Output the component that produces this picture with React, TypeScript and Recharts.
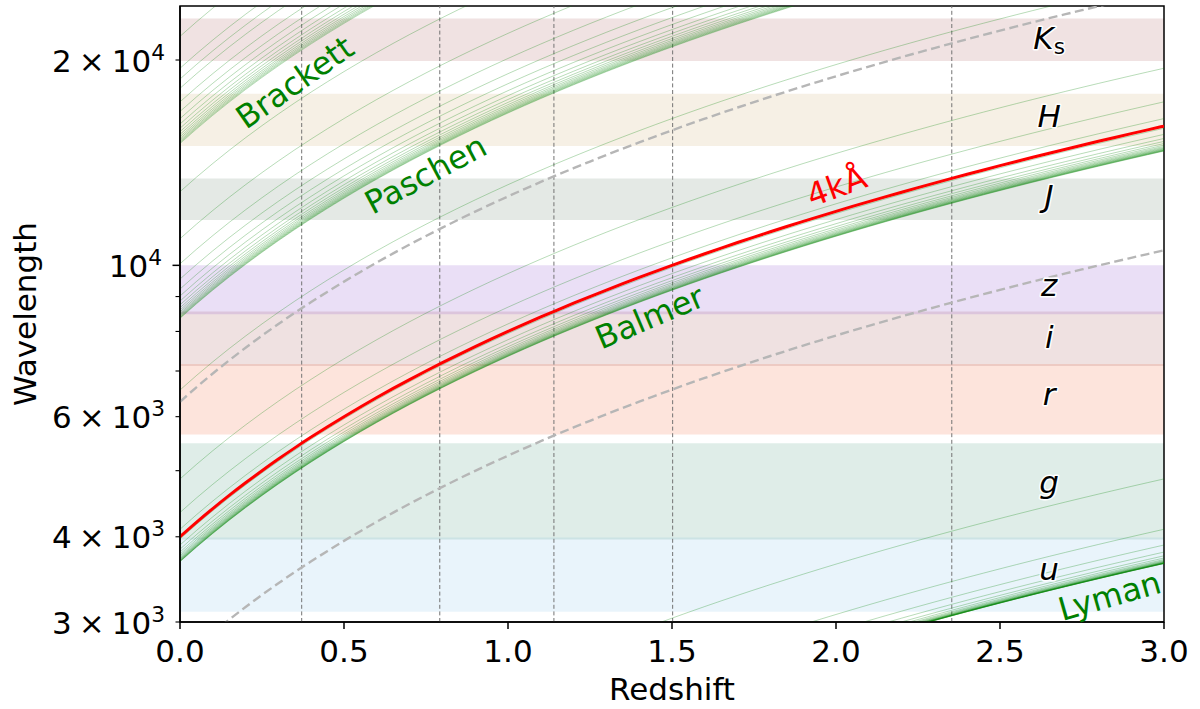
import React from 'react';
import { LineChart, Line, XAxis, YAxis, ReferenceArea, ReferenceLine, ReferenceDot } from 'recharts';

// ---------------- data ----------------
const REDSHIFT_TICKS = [0, 0.5, 1, 1.5, 2, 2.5, 3];
const WAVELENGTH_TICKS = [3000, 4000, 5000, 6000, 7000, 8000, 9000, 10000, 20000];
const WAVELENGTH_TICK_LABELS = ['3 × 10^3', '4 × 10^3', '', '6 × 10^3', '', '', '', '10^4', '2 × 10^4'];
const WAVELENGTH_MAJOR_TICKS = [10000];

// rest-frame wavelengths (Å) of hydrogen transitions, upper level up to n = 22
const LYMAN = [1215.7, 1025.7, 972.5, 949.7, 937.8, 930.8, 926.2, 923.2, 921.0, 919.4, 918.1, 917.2, 916.4, 915.8, 915.3, 914.9, 914.6, 914.3, 914.0, 913.8, 913.7];
const BALMER = [6564.7, 4862.7, 4341.7, 4102.9, 3971.2, 3890.2, 3836.5, 3799.0, 3771.7, 3751.2, 3735.5, 3723.0, 3713.1, 3705.0, 3698.2, 3692.6, 3687.9, 3683.9, 3680.4, 3677.4];
const PASCHEN = [18756.3, 12821.7, 10941.2, 10052.2, 9548.6, 9231.6, 9017.4, 8865.3, 8752.9, 8667.3, 8600.8, 8547.8, 8504.9, 8469.6, 8440.3, 8415.7, 8394.8, 8376.8, 8361.4];
const BRACKETT = [40522.8, 26258.8, 21661.2, 19450.9, 18179.1, 17366.9, 16811.1, 16411.7, 16113.7, 15885.0, 15705.0, 15560.7, 15443.2, 15346.0, 15264.8, 15196.0, 15137.4, 15086.9];

const BREAK_REST = 4000; // 4kÅ break
const GREY_DASHED_REST = [2630, 6310];
const MARKER_REDSHIFTS = [0.371, 0.792, 1.14, 1.502, 2.353];

const FILTER_NAMES = ['u', 'g', 'r', 'i', 'z', 'J', 'H', 'Ks'];
const FILTER_LOW = [3105, 3965, 5650, 7120, 8480, 11650, 14955, 19925];
const FILTER_HIGH = [3990, 5484, 7168, 8560, 10000, 13412, 17846, 23010];

// ---------------- styles ----------------
const FILTER_COLORS = [
  'rgba(108,182,228,0.15)',
  'rgba(42,135,102,0.15)',
  'rgba(242,75,22,0.15)',
  'rgba(148,55,55,0.15)',
  'rgba(115,42,195,0.15)',
  'rgba(75,108,82,0.15)',
  'rgba(195,155,82,0.15)',
  'rgba(155,62,62,0.15)',
];
const FILTER_LABEL_DY = [5, 2, 6, 9, 6, 8, 7, 9];
const FILTER_LABEL_Z = 2.65;

const SERIES_LABELS = [
  { text: 'Brackett', z: 0.35, lam: 18540, angle: -35, color: '#008000' },
  { text: 'Paschen', z: 0.749, lam: 13594, angle: -28, color: '#008000' },
  { text: 'Balmer', z: 1.432, lam: 8393, angle: -23, color: '#008000' },
  { text: 'Lyman', z: 2.834, lam: 3276, angle: -16, color: '#008000' },
  { text: '4kÅ', z: 2.002, lam: 13053, angle: -20, color: '#ff0000' },
];

const FONT = "'DejaVu Sans', sans-serif";
const FS = 31;
const LABEL_FS = 32;

const HYDROGEN = [
  { key: 'ly', rest: LYMAN },
  { key: 'ba', rest: BALMER },
  { key: 'pa', rest: PASCHEN },
  { key: 'br', rest: BRACKETT },
];

// sampling grid in redshift for drawing the curves λ_obs = λ_rest (1+z)
const Z_SAMPLES = Array.from({ length: 61 }, (_, i) => i * 0.05);

const chartData = Z_SAMPLES.map((z) => {
  const row: Record<string, number> = { z };
  HYDROGEN.forEach((s) => s.rest.forEach((lam, i) => { row[`${s.key}${i}`] = lam * (1 + z); }));
  GREY_DASHED_REST.forEach((lam, i) => { row[`d${i}`] = lam * (1 + z); });
  row.brk = BREAK_REST * (1 + z);
  return row;
});

// ---------------- ticks ----------------
const YTick = (props: any) => {
  const { x, y, payload } = props;
  const v = payload.value;
  const idx = WAVELENGTH_TICKS.indexOf(v);
  const label = idx >= 0 ? WAVELENGTH_TICK_LABELS[idx] : '';
  const major = WAVELENGTH_MAJOR_TICKS.includes(v);
  const len = major ? 7.5 : 4.5;
  let content: React.ReactNode = null;
  if (label) {
    const [base, exp] = label.split('^');
    const parts = base.split(' × ');
    content = (
      <text x={x - len - 10.5} y={y + 11.5} textAnchor="end" fontFamily={FONT} fontSize={FS} fill="#000">
        {parts.length === 2 ? (
          <>
            <tspan>{parts[0]}</tspan>
            <tspan dx={7}>×</tspan>
            <tspan dx={7}>{parts[1]}</tspan>
          </>
        ) : (
          <tspan>{parts[0]}</tspan>
        )}
        <tspan dy={-12} fontSize={FS * 0.7}>{exp}</tspan>
      </text>
    );
  }
  return (
    <g>
      <line x1={x - len} x2={x} y1={y} y2={y} stroke="#000" strokeWidth={major ? 1.5 : 1.1} />
      {content}
    </g>
  );
};

const XTick = (props: any) => {
  const { x, y, payload } = props;
  return (
    <g>
      <line x1={x} x2={x} y1={y} y2={y + 7} stroke="#000" strokeWidth={1.5} />
      <text x={x} y={y + 40} textAnchor="middle" fontFamily={FONT} fontSize={FS} fill="#000">
        {Number(payload.value).toFixed(1)}
      </text>
    </g>
  );
};

const seriesLabelShape = (lab: typeof SERIES_LABELS[number]) => (p: any) => (
  <text
    x={p.cx}
    y={p.cy}
    transform={`rotate(${lab.angle}, ${p.cx}, ${p.cy})`}
    textAnchor="middle"
    dominantBaseline="central"
    fontFamily={FONT}
    fontSize={LABEL_FS}
    fill={lab.color}
  >
    {lab.text}
  </text>
);

const filterLabelShape = (name: string, dy: number) => (p: any) => {
  const main = name.charAt(0);
  const sub = name.slice(1);
  return (
    <text
      x={p.cx}
      y={p.cy + dy}
      textAnchor="middle"
      fontFamily={FONT}
      fontSize={FS}
      fontStyle="italic"
      fill="#000"
      stroke="#fff"
      strokeWidth={3}
      paintOrder="stroke"
      strokeLinejoin="round"
    >
      <tspan>{main}</tspan>
      {sub ? (
        <tspan dy={5} fontSize={FS * 0.7} fontStyle="normal">{sub}</tspan>
      ) : null}
    </text>
  );
};

export default function App() {
  return (
    <div style={{ position: 'absolute', left: 0, top: 0, width: 1200, height: 709, background: '#fff' }}>
      <LineChart
        width={1200}
        height={709}
        data={chartData}
        margin={{ top: 6, right: 36, bottom: 0, left: 0 }}
      >
        <XAxis
          type="number"
          dataKey="z"
          domain={[0, 3]}
          ticks={REDSHIFT_TICKS}
          interval={0}
          allowDataOverflow
          height={87}
          tickLine={false}
          tickSize={0}
          tickMargin={0}
          tick={<XTick />}
          axisLine={{ stroke: '#000', strokeWidth: 1.5 }}
        />
        <YAxis
          scale="log"
          type="number"
          domain={[3000, 24000]}
          ticks={WAVELENGTH_TICKS}
          interval={0}
          allowDataOverflow
          width={180}
          tickLine={false}
          tickSize={0}
          tickMargin={0}
          tick={<YTick />}
          axisLine={{ stroke: '#000', strokeWidth: 1.5 }}
        />

        {FILTER_NAMES.map((name, i) => (
          <ReferenceArea
            key={`band-${name}`}
            x1={0}
            x2={3}
            y1={FILTER_LOW[i]}
            y2={FILTER_HIGH[i]}
            fill={FILTER_COLORS[i]}
            fillOpacity={1}
            stroke="none"
            ifOverflow="visible"
          />
        ))}

        {MARKER_REDSHIFTS.map((z) => (
          <ReferenceLine key={`vz-${z}`} x={z} stroke="#737373" strokeWidth={1} strokeDasharray="4 2.6" />
        ))}

        {GREY_DASHED_REST.map((lam, i) => (
          <Line
            key={`d${i}`}
            dataKey={`d${i}`}
            type="monotone"
            stroke="#b6b6b6"
            strokeWidth={2.4}
            strokeDasharray="9 4.5"
            dot={false}
            activeDot={false}
            isAnimationActive={false}
          />
        ))}

        {HYDROGEN.map((s) =>
          s.rest.map((lam, i) => (
            <Line
              key={`${s.key}${i}`}
              dataKey={`${s.key}${i}`}
              type="monotone"
              stroke="#008000"
              strokeOpacity={0.28}
              strokeWidth={1}
              dot={false}
              activeDot={false}
              isAnimationActive={false}
            />
          ))
        )}

        <Line
          dataKey="brk"
          type="monotone"
          stroke="#ff0000"
          strokeWidth={3}
          dot={false}
          activeDot={false}
          isAnimationActive={false}
        />

        {SERIES_LABELS.map((lab) => (
          <ReferenceDot key={lab.text} x={lab.z} y={lab.lam} r={0} shape={seriesLabelShape(lab)} />
        ))}

        {FILTER_NAMES.map((name, i) => (
          <ReferenceDot
            key={`fl-${name}`}
            x={FILTER_LABEL_Z}
            y={Math.sqrt(FILTER_LOW[i] * FILTER_HIGH[i])}
            r={0}
            shape={filterLabelShape(name, FILTER_LABEL_DY[i])}
          />
        ))}

        <ReferenceArea x1={0} x2={3} y1={3000} y2={24000} fill="none" stroke="#000" strokeWidth={1.5} ifOverflow="visible" />
      </LineChart>
      <svg width={1200} height={709} style={{ position: 'absolute', left: 0, top: 0, pointerEvents: 'none' }}>
        <text x={672} y={700} textAnchor="middle" fontFamily={FONT} fontSize={FS} fill="#000">Redshift</text>
        <text transform="translate(36,314) rotate(-90)" textAnchor="middle" fontFamily={FONT} fontSize={FS} fill="#000">Wavelength</text>
      </svg>
    </div>
  );
}
